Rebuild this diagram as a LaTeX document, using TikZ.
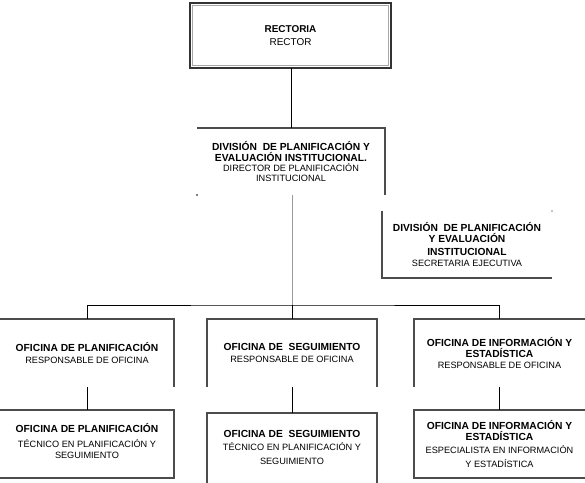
\documentclass[tikz,border=0pt]{standalone}
\usepackage{fontspec}
\setmainfont{Liberation Sans}
\begin{document}
\begin{tikzpicture}[x=1bp,y=-1bp,
  box/.style={rectangle,inner sep=0pt,outer sep=0pt,align=center,text=black},
  txt/.style={inner sep=0pt,outer sep=0pt,align=center,text=black},
  border/.style={draw=black!70,line width=1.3bp},
  conn/.style={draw=black,line width=0.9bp},
  lconn/.style={draw=black!40,line width=0.9bp},
]
\useasboundingbox (0,0) rectangle (585,483);
\newcommand{\ttlx}[1]{{\bfseries\fontsize{10.3}{11}\selectfont #1}}
\newcommand{\sblx}[1]{{\fontsize{9.2}{12}\selectfont #1}}

% boxes
\node[box,minimum width=201bp,minimum height=65bp] (rect) at (290.5,35.5)
  {{\bfseries\fontsize{10}{15}\selectfont RECTORIA}\\[1bp]{\fontsize{10}{13}\selectfont RECTOR}};
\node[box,minimum width=188bp,minimum height=67bp] (div) at (291,161.5)
  {\ttlx{DIVISIÓN\ \ DE PLANIFICACIÓN Y}\\[-1bp]\ttlx{EVALUACIÓN INSTITUCIONAL.}\\[-1bp]\sblx{DIRECTOR DE PLANIFICACIÓN}\\[-2bp]\sblx{INSTITUCIONAL}};
\node[box,minimum width=170bp,minimum height=67bp] (sec) at (467,244.5)
  {\ttlx{DIVISIÓN\ \ DE PLANIFICACIÓN}\\[-1bp]\ttlx{Y EVALUACIÓN}\\[1bp]\ttlx{INSTITUCIONAL}\\[-1bp]\sblx{SECRETARIA EJECUTIVA}};
\node[box,minimum width=174bp,minimum height=68bp] (o1) at (87,353)
  {\ttlx{OFICINA DE PLANIFICACIÓN}\\[0bp]\sblx{RESPONSABLE DE OFICINA}};
\node[box,minimum width=174bp,minimum height=68bp] (o1b) at (87,444) {};
\node[txt] (o1bt) at (87,441)
  {\ttlx{OFICINA DE PLANIFICACIÓN}\\[3bp]\sblx{TÉCNICO EN PLANIFICACIÓN Y}\\[-1bp]\sblx{SEGUIMIENTO}};
\node[box,minimum width=170bp,minimum height=68bp] (o2) at (292,353)
  {\ttlx{OFICINA DE\ \ SEGUIMIENTO}\\[0bp]\sblx{RESPONSABLE DE OFICINA}};
\node[box,minimum width=170bp,minimum height=70bp] (o2b) at (292,448) {};
\node[txt] (o2bt) at (292,447.5)
  {\ttlx{OFICINA DE\ \ SEGUIMIENTO}\\[1bp]\sblx{TÉCNICO EN PLANIFICACIÓN Y}\\[2bp]\sblx{SEGUIMIENTO}};
\node[box,minimum width=171bp,minimum height=68bp] (o3) at (499.5,353)
  {\ttlx{OFICINA DE INFORMACIÓN Y}\\[-1bp]\ttlx{ESTADÍSTICA}\\[0bp]\sblx{RESPONSABLE DE OFICINA}};
\node[box,minimum width=171bp,minimum height=68bp] (o3b) at (499.5,444) {};
\node[txt] (o3bt) at (499.5,444)
  {\ttlx{OFICINA DE INFORMACIÓN Y}\\[-1bp]\ttlx{ESTADÍSTICA}\\[1bp]\sblx{ESPECIALISTA EN INFORMACIÓN}\\[2bp]\sblx{Y ESTADÍSTICA}};

% borders
\draw[draw=black!80,line width=1.6bp] (rect.south west) rectangle (rect.north east);
\draw[draw=black!35,line width=1.2bp] ([shift={(2.2,-2.2)}]rect.south west) rectangle ([shift={(-2.2,2.2)}]rect.north east);
\draw[border] (div.north west) -- (div.north east) -- (div.south east);
\fill[black] (div.south west) circle (0.8bp);
\draw[border] (sec.north west) -- (sec.south west) -- (sec.south east);
\fill[black] (sec.north east) circle (0.7bp);
\draw[border] (o1.north west) -- (o1.north east) -- (o1.south east);
\draw[border] (o1b.north west) -- (o1b.north east) -- (o1b.south east) -- (o1b.south west);
\draw[border] (o2.south west) -- (o2.north west) -- (o2.north east) -- (o2.south east);
\draw[border] (o2b.south west) -- (o2b.north west) -- (o2b.north east) -- (o2b.south east);
\draw[border] (o3.south west) -- (o3.north west) -- (o3.north east);
\draw[border] (o3b.north east) -- (o3b.north west) -- (o3b.south west) -- (o3b.south east);

% connectors
\coordinate (rs) at ([xshift=1bp]rect.south);
\coordinate (ds) at ([xshift=1bp]div.south);
\coordinate (bus) at (292,305);
\draw[conn] (rs) -- (rs |- div.north);
\draw[lconn] (ds) -- (bus);
\draw[conn] (o1.north) |- (bus) -| (o3.north);
\draw[conn] (bus) -- (o2.north);
\draw[conn] (o1.south) -- (o1b.north);
\draw[conn] (o2.south) -- (o2b.north);
\draw[conn] (o3.south) -- (o3b.north);
\end{tikzpicture}
\end{document}
